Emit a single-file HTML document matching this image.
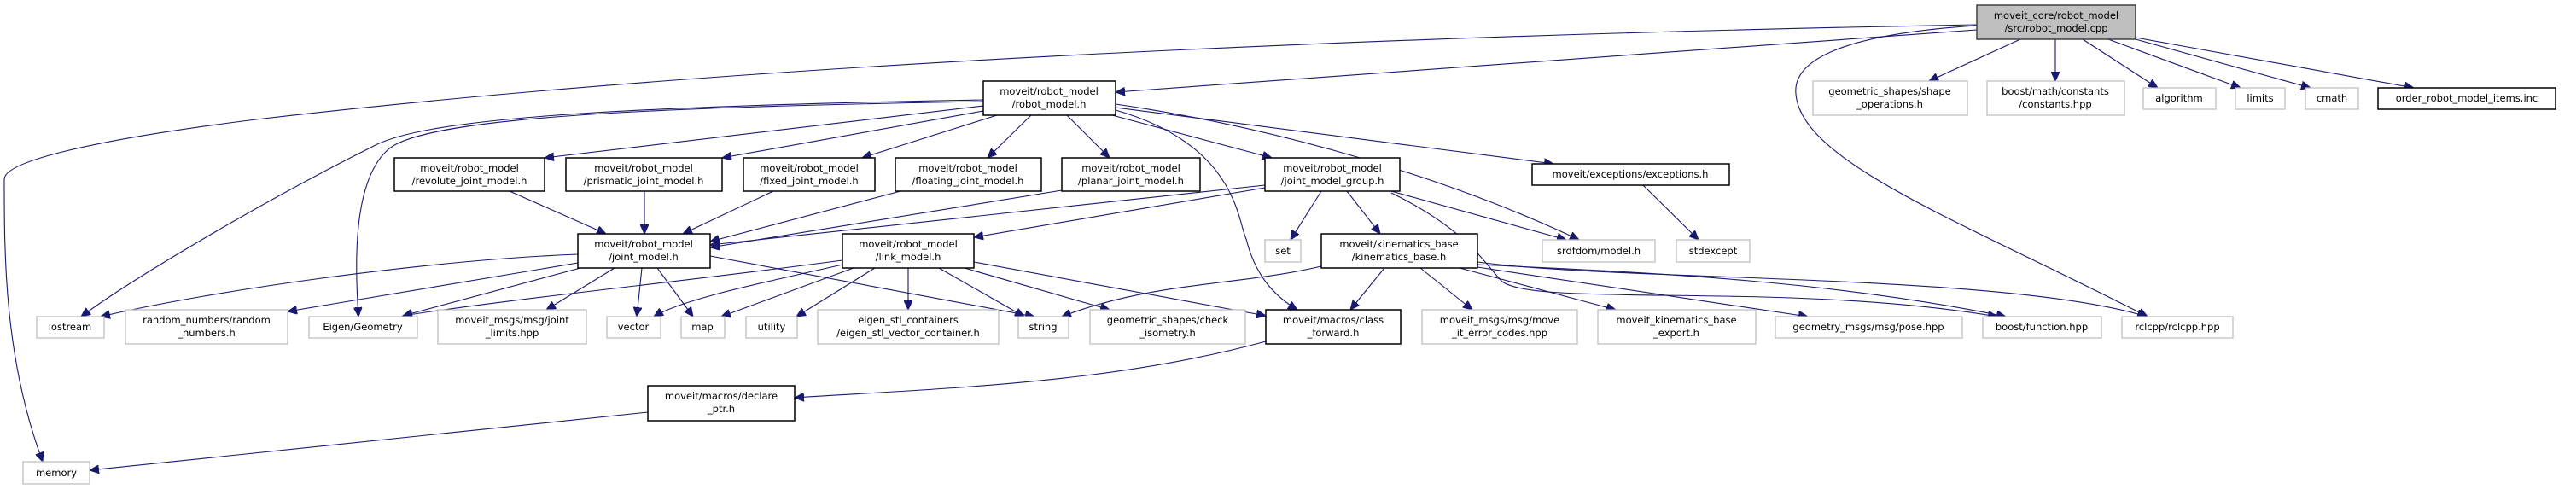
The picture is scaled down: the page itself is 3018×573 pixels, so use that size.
<!DOCTYPE html>
<html><head><meta charset="utf-8"><style>
html,body{margin:0;padding:0;background:#fff;}
svg{display:block;}
text{font-family:"DejaVu Sans","Liberation Sans",sans-serif;font-size:11.5px;fill:#000;text-anchor:middle;}
.n rect{fill:#fff;stroke:#bfbfbf;stroke-width:1.3;}
.b rect{fill:#fff;stroke:#000;stroke-width:1.5;}
.g rect{fill:#bfbfbf;stroke:#404040;stroke-width:1.5;}
path{fill:none;stroke:#191970;stroke-width:1.1;}
</style></head><body>
<svg width="3018" height="573" viewBox="0 0 3018 573" xmlns="http://www.w3.org/2000/svg">
<defs><marker id="a" markerUnits="userSpaceOnUse" markerWidth="12" markerHeight="10" refX="11" refY="5" orient="auto"><path d="M0,0 L11,5 L0,10 Z" style="fill:#191970;stroke:#191970;stroke-width:1"/></marker></defs>

<g marker-end="url(#a)">
<!-- cpp edges -->
<path d="M2316,35 L1307,108"/>
<path d="M2316,29 C1700,40 900,70 300,140 C100,165 5,190 5,210 C5,300 5,420 50,541"/>
<path d="M2316,30 C2160,40 2100,70 2104,110 C2110,190 2300,260 2516,371"/>
<path d="M2367,46 L2260,95"/>
<path d="M2408,46 L2408,95"/>
<path d="M2440,46 L2528,103"/>
<path d="M2470,46 L2625,103"/>
<path d="M2502,46 L2707,103"/>
<path d="M2502,44 L2828,103"/>
<!-- robot_model.h edges -->
<path d="M1152,119 C800,125 500,135 455,175 C415,210 415,300 420,371"/>
<path d="M1152,117 C700,125 500,140 440,170 C300,240 150,330 95,371"/>
<path d="M1152,124 L638,185"/>
<path d="M1152,130 L846,185"/>
<path d="M1168,135 L1010,185"/>
<path d="M1208,135 L1157,185"/>
<path d="M1250,135 L1300,185"/>
<path d="M1303,135 L1490,185"/>
<path d="M1307,126 L1820,192"/>
<path d="M1307,122 C1500,150 1700,210 1850,281"/>
<path d="M1307,129 C1450,170 1450,260 1460,280 C1470,320 1490,345 1520,363"/>
<!-- planar/floating/fixed/prismatic/revolute to joint_model -->
<path d="M597,224 L710,274"/>
<path d="M755,224 L755,274"/>
<path d="M906,224 L800,274"/>
<path d="M1055,224 L832,283"/>
<path d="M1244,223 L832,290"/>
<!-- jmg edges -->
<path d="M1482,217 L832,287"/>
<path d="M1482,220 L1141,278"/>
<path d="M1548,224 L1512,281"/>
<path d="M1578,224 L1617,274"/>
<path d="M1630,224 L1835,281"/>
<path d="M1630,226 C1720,270 1740,310 1760,330 C1800,360 2100,330 2340,371"/>
<!-- exceptions -->
<path d="M1925,217 L1990,281"/>
<!-- joint_model edges -->
<path d="M677,298 C500,305 250,340 118,371"/>
<path d="M677,308 L337,365"/>
<path d="M680,314 L472,370"/>
<path d="M720,314 L640,363"/>
<path d="M752,314 L746,371"/>
<path d="M770,314 L812,371"/>
<path d="M832,300 L1212,371"/>
<!-- link_model -->
<path d="M987,305 C800,330 600,350 472,370"/>
<path d="M987,310 C900,330 800,350 766,371"/>
<path d="M1000,314 L845,371"/>
<path d="M1025,314 L933,371"/>
<path d="M1064,314 L1064,363"/>
<path d="M1100,314 L1200,371"/>
<path d="M1130,314 L1300,363"/>
<path d="M1141,307 L1483,370"/>
<!-- kinematics_base -->
<path d="M1548,312 C1450,335 1350,330 1244,371"/>
<path d="M1622,314 L1582,363"/>
<path d="M1664,314 L1725,363"/>
<path d="M1710,314 L1893,363"/>
<path d="M1731,313 L2118,371"/>
<path d="M1731,310 C1950,320 2150,330 2350,371"/>
<path d="M1731,307 C1900,330 2350,320 2515,371"/>
<!-- class_forward to declare -->
<path d="M1483,400 C1300,450 1100,455 931,466"/>
<path d="M759,483 L105,551"/>
</g>

<g class="g"><rect x="2316" y="6" width="186" height="40"/><text x="2409" y="22">moveit_core/robot_model</text><text x="2409" y="37">/src/robot_model.cpp</text></g>
<g class="b"><rect x="1152" y="95" width="155" height="40"/><text x="1229" y="111">moveit/robot_model</text><text x="1229" y="126">/robot_model.h</text></g>
<g class="n"><rect x="2124" y="95" width="181" height="40"/><text x="2214" y="111">geometric_shapes/shape</text><text x="2214" y="126">_operations.h</text></g>
<g class="n"><rect x="2328" y="95" width="161" height="40"/><text x="2408" y="111">boost/math/constants</text><text x="2408" y="126">/constants.hpp</text></g>
<g class="n"><rect x="2511" y="103" width="85" height="25"/><text x="2553" y="119">algorithm</text></g>
<g class="n"><rect x="2619" y="103" width="58" height="25"/><text x="2648" y="119">limits</text></g>
<g class="n"><rect x="2701" y="103" width="62" height="25"/><text x="2732" y="119">cmath</text></g>
<g class="b"><rect x="2786" y="103" width="208" height="25"/><text x="2890" y="119">order_robot_model_items.inc</text></g>

<g class="b"><rect x="462" y="185" width="176" height="39"/><text x="550" y="201">moveit/robot_model</text><text x="550" y="216">/revolute_joint_model.h</text></g>
<g class="b"><rect x="663" y="185" width="183" height="39"/><text x="754" y="201">moveit/robot_model</text><text x="754" y="216">/prismatic_joint_model.h</text></g>
<g class="b"><rect x="871" y="185" width="154" height="39"/><text x="948" y="201">moveit/robot_model</text><text x="948" y="216">/fixed_joint_model.h</text></g>
<g class="b"><rect x="1049" y="185" width="171" height="39"/><text x="1134" y="201">moveit/robot_model</text><text x="1134" y="216">/floating_joint_model.h</text></g>
<g class="b"><rect x="1244" y="185" width="162" height="39"/><text x="1325" y="201">moveit/robot_model</text><text x="1325" y="216">/planar_joint_model.h</text></g>
<g class="b"><rect x="1482" y="185" width="158" height="39"/><text x="1561" y="201">moveit/robot_model</text><text x="1561" y="216">/joint_model_group.h</text></g>
<g class="b"><rect x="1795" y="192" width="231" height="25"/><text x="1910" y="208">moveit/exceptions/exceptions.h</text></g>

<g class="b"><rect x="677" y="274" width="155" height="40"/><text x="754" y="290">moveit/robot_model</text><text x="754" y="305">/joint_model.h</text></g>
<g class="b"><rect x="987" y="274" width="154" height="40"/><text x="1064" y="290">moveit/robot_model</text><text x="1064" y="305">/link_model.h</text></g>
<g class="n"><rect x="1482" y="281" width="42" height="26"/><text x="1503" y="298">set</text></g>
<g class="b"><rect x="1548" y="274" width="183" height="40"/><text x="1639" y="290">moveit/kinematics_base</text><text x="1639" y="305">/kinematics_base.h</text></g>
<g class="n"><rect x="1807" y="281" width="132" height="26"/><text x="1873" y="298">srdfdom/model.h</text></g>
<g class="n"><rect x="1964" y="281" width="86" height="26"/><text x="2007" y="298">stdexcept</text></g>

<g class="n"><rect x="43" y="371" width="79" height="25"/><text x="82" y="387">iostream</text></g>
<g class="n"><rect x="147" y="363" width="190" height="40"/><text x="242" y="379">random_numbers/random</text><text x="242" y="394">_numbers.h</text></g>
<g class="n"><rect x="362" y="371" width="127" height="25"/><text x="425" y="387">Eigen/Geometry</text></g>
<g class="n"><rect x="513" y="363" width="174" height="40"/><text x="600" y="379">moveit_msgs/msg/joint</text><text x="600" y="394">_limits.hpp</text></g>
<g class="n"><rect x="711" y="371" width="63" height="25"/><text x="742" y="387">vector</text></g>
<g class="n"><rect x="798" y="371" width="51" height="25"/><text x="823" y="387">map</text></g>
<g class="n"><rect x="874" y="371" width="60" height="25"/><text x="904" y="387">utility</text></g>
<g class="n"><rect x="958" y="363" width="212" height="40"/><text x="1064" y="379">eigen_stl_containers</text><text x="1064" y="394">/eigen_stl_vector_container.h</text></g>
<g class="n"><rect x="1193" y="371" width="59" height="25"/><text x="1222" y="387">string</text></g>
<g class="n"><rect x="1277" y="363" width="182" height="40"/><text x="1368" y="379">geometric_shapes/check</text><text x="1368" y="394">_isometry.h</text></g>
<g class="b"><rect x="1483" y="363" width="158" height="40"/><text x="1562" y="379">moveit/macros/class</text><text x="1562" y="394">_forward.h</text></g>
<g class="n"><rect x="1666" y="363" width="182" height="40"/><text x="1757" y="379">moveit_msgs/msg/move</text><text x="1757" y="394">_it_error_codes.hpp</text></g>
<g class="n"><rect x="1872" y="363" width="185" height="40"/><text x="1964" y="379">moveit_kinematics_base</text><text x="1964" y="394">_export.h</text></g>
<g class="n"><rect x="2080" y="371" width="219" height="25"/><text x="2189" y="387">geometry_msgs/msg/pose.hpp</text></g>
<g class="n"><rect x="2323" y="371" width="139" height="25"/><text x="2392" y="387">boost/function.hpp</text></g>
<g class="n"><rect x="2486" y="371" width="130" height="25"/><text x="2551" y="387">rclcpp/rclcpp.hpp</text></g>

<g class="b"><rect x="759" y="452" width="172" height="41"/><text x="845" y="468">moveit/macros/declare</text><text x="845" y="483">_ptr.h</text></g>
<g class="n"><rect x="27" y="541" width="78" height="26"/><text x="66" y="558">memory</text></g>
</svg>
</body></html>
